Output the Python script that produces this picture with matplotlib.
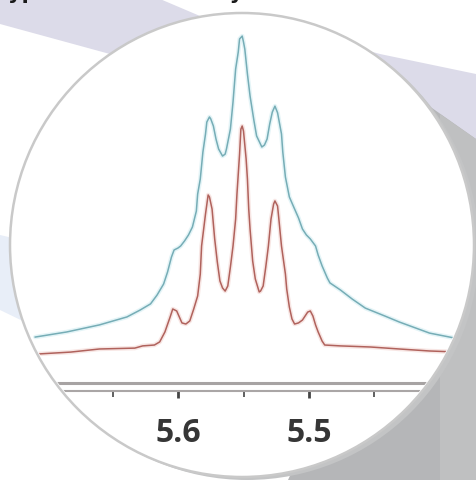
import matplotlib
matplotlib.use("Agg")
import matplotlib.pyplot as plt
from matplotlib.patches import Circle, Polygon

# traces: chemical shift (ppm) and relative intensity
red_ppm = [5.708, 5.682, 5.660, 5.633, 5.627, 5.618, 5.614, 5.610, 5.606, 5.604,
           5.601, 5.597, 5.594, 5.591, 5.588, 5.585, 5.583, 5.582, 5.579, 5.577,
           5.576, 5.574, 5.572, 5.570, 5.568, 5.566, 5.564, 5.562, 5.560, 5.558,
           5.556, 5.555, 5.553, 5.552, 5.551, 5.550, 5.548, 5.547, 5.546, 5.545,
           5.543, 5.541, 5.538, 5.537, 5.535, 5.533, 5.531, 5.529, 5.527, 5.526,
           5.524, 5.523, 5.521, 5.518, 5.517, 5.515, 5.513, 5.511, 5.508, 5.505,
           5.501, 5.499, 5.497, 5.495, 5.493, 5.490, 5.488, 5.476, 5.453, 5.431,
           5.408, 5.385]
red_int = [-3.2, -2.3, -0.9, -0.5, 0.5, 0.9, 2.3, 6.8, 13.6, 17.2,
           16.3, 10.9, 10.4, 11.8, 17.2, 23.1, 33.0, 45.7, 60.2, 68.8,
           67.9, 62.4, 48.9, 38.5, 29.9, 26.7, 25.3, 27.6, 36.2, 45.7,
           57.9, 69.2, 87.3, 98.6, 100.0, 97.7, 85.1, 76.0, 62.4, 53.4,
           38.9, 30.8, 24.9, 25.3, 27.6, 36.2, 45.7, 57.9, 64.7, 66.1,
           63.8, 57.9, 45.7, 33.0, 26.2, 18.1, 12.7, 10.4, 10.9, 12.2,
           15.8, 16.3, 14.0, 10.0, 6.8, 2.7, 0.9, 0.5, 0.0, -0.9,
           -1.8, -2.3]

blue_ppm = [5.709, 5.685, 5.660, 5.639, 5.629, 5.621, 5.616, 5.611, 5.608, 5.605,
            5.603, 5.600, 5.598, 5.595, 5.592, 5.589, 5.586, 5.585, 5.583, 5.581,
            5.579, 5.578, 5.576, 5.575, 5.573, 5.571, 5.569, 5.566, 5.564, 5.563,
            5.560, 5.558, 5.556, 5.554, 5.553, 5.551, 5.550, 5.549, 5.547, 5.545,
            5.542, 5.540, 5.536, 5.534, 5.532, 5.530, 5.528, 5.526, 5.524, 5.521,
            5.520, 5.518, 5.515, 5.512, 5.508, 5.505, 5.502, 5.499, 5.495, 5.493,
            5.490, 5.486, 5.484, 5.476, 5.467, 5.457, 5.442, 5.431, 5.408, 5.385]
blue_int = [4.5, 6.8, 10.0, 13.6, 16.7, 19.5, 23.5, 28.5, 33.9, 40.7,
            43.9, 44.8, 45.7, 48.0, 50.7, 54.3, 61.5, 69.2, 76.0, 88.2,
            96.4, 101.8, 104.1, 103.2, 100.0, 94.1, 89.6, 86.4, 87.3, 89.6,
            98.6, 110.9, 125.8, 133.5, 139.4, 140.7, 138.0, 134.8, 123.5, 113.6,
            102.3, 95.5, 90.5, 91.4, 94.1, 100.9, 106.3, 109.0, 106.0, 96.4,
            88.2, 76.9, 67.9, 63.8, 58.4, 53.4, 50.7, 48.9, 45.7, 41.6,
            36.7, 31.2, 29.0, 25.8, 21.7, 17.6, 14.0, 11.3, 6.3, 3.6]

major_ticks = [5.6, 5.5]
major_labels = ["5.6", "5.5"]
minor_ticks = [5.65, 5.55, 5.45]

W, H = 476, 481
fig = plt.figure(figsize=(W / 100, H / 100), dpi=100)
fig.patch.set_facecolor("white")

# decorative page background, in pixel units
bg = fig.add_axes([0, 0, 1, 1])
bg.set_xlim(0, W)
bg.set_ylim(H, 0)
bg.axis("off")

bg.add_patch(Polygon([(0, 0), (160, 0), (200, 17), (290, 30), (380, 55), (476, 75),
                      (476, 155), (0, 25)], closed=True, color="#dcdbe9", lw=0))
bg.add_patch(Polygon([(0, 236), (60, 250), (60, 340), (0, 311)], closed=True,
                     color="#e8eef8", lw=0))
bg.add_patch(Polygon([(405, 90), (476, 140), (476, 481), (288, 481), (300, 455)],
                     closed=True, color="#b5b6b8", lw=0))
bg.add_patch(Polygon([(440, 115), (476, 140), (476, 481), (440, 481)], closed=True,
                     color="#bfc0c1", lw=0))
bg.add_patch(Circle((247, 249), 232, color="#c3c4c5", lw=0))
bg.add_patch(Circle((242, 246), 232, facecolor="white", edgecolor="none"))

fig.text(-0.005, 1 + 1.5 / H, "typical for this study", fontsize=15,
         fontweight="bold", color="#1a1a1a", va="baseline", ha="left")

# spectrum layer
ax = fig.add_axes([0, 0, 1, 1])
ax.patch.set_alpha(0)
clip = Circle((242, 246), 230, transform=bg.transData)

for ppm, inten, col, halo in [(blue_ppm, blue_int, "#76adb6", "#d2edf2"),
                              (red_ppm, red_int, "#b0625c", "#f3d6d2")]:
    h, = ax.plot(ppm, inten, color=halo, lw=3.2, alpha=0.6, solid_capstyle="round")
    h.set_clip_path(clip)
    ln, = ax.plot(ppm, inten, color=col, lw=1.1)
    ln.set_clip_path(clip)

top_line = ax.axhline(-16.4, color="#a7a3a3", lw=2.2)
top_line.set_clip_path(clip)

for side in ["top", "left", "right"]:
    ax.spines[side].set_visible(False)
ax.spines["bottom"].set_position(("data", -19.8))
ax.spines["bottom"].set_color("#aaa6a6")
ax.spines["bottom"].set_linewidth(1.5)
ax.spines["bottom"].set_clip_path(clip)

ax.set_xlim(5.7359, 5.3725)
ax.set_ylim(-60.18, 157.47)
ax.set_yticks([])
ax.set_xticks(major_ticks, labels=major_labels)
ax.set_xticks(minor_ticks, minor=True)
ax.tick_params(axis="x", which="major", direction="out", length=5, width=2.0,
               color="#444444", pad=13, labelsize=23, labelcolor="#363636")
ax.tick_params(axis="x", which="minor", direction="out", length=4, width=1.2,
               color="#444444")
for lab in ax.get_xticklabels():
    lab.set_fontfamily("Open Sans")
    lab.set_fontweight("bold")

ax.add_patch(Circle((242, 246), 232, transform=bg.transData, facecolor="none",
                    edgecolor="#c9c9c9", lw=1.8, zorder=10))
ax.set_xlim(5.7359, 5.3725)
ax.set_ylim(-60.18, 157.47)

fig.savefig("out.png", dpi=100)
